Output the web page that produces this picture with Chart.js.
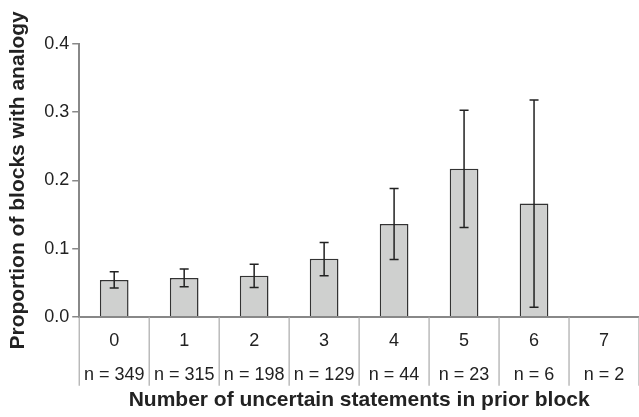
<!DOCTYPE html>
<html>
<head>
<meta charset="utf-8">
<script src="https://cdn.jsdelivr.net/npm/chart.js@4.4.0/dist/chart.umd.min.js"></script>
<style>
  html, body { margin: 0; padding: 0; background: #fff; }
  #wrap { width: 639px; height: 417px; }
</style>
</head>
<body>
<div id="wrap"><canvas id="analogyChart"></canvas></div>
<script>
// values
const categories = ['0', '1', '2', '3', '4', '5', '6', '7'];
const sampleSizes = ['n = 349', 'n = 315', 'n = 198', 'n = 129', 'n = 44', 'n = 23', 'n = 6', 'n = 2'];
const proportions = [0.054, 0.057, 0.060, 0.085, 0.136, 0.217, 0.166, 0];
const errLow = [0.042, 0.044, 0.043, 0.060, 0.084, 0.131, 0.014, null];
const errHigh = [0.066, 0.070, 0.077, 0.109, 0.188, 0.303, 0.318, null];
const yTicks = [0, 0.1, 0.2, 0.3, 0.4];

const FONT = '"Liberation Sans", Arial, sans-serif';

// error bars drawn with the chart's own scales
const errorBars = {
    id: 'errorBars',
    afterDatasetsDraw(chart) {
        const ctx = chart.ctx;
        const meta = chart.getDatasetMeta(0);
        const y = chart.scales.y;
        ctx.save();
        ctx.strokeStyle = '#222';
        ctx.lineWidth = 1.5;
        meta.data.forEach((bar, i) => {
            if (errLow[i] == null || errHigh[i] == null) return;
            const x = bar.x;
            const yLo = y.getPixelForValue(errLow[i]);
            const yHi = y.getPixelForValue(errHigh[i]);
            const cap = 4.5;
            ctx.beginPath();
            ctx.moveTo(x, yLo); ctx.lineTo(x, yHi);
            ctx.moveTo(x - cap, yLo); ctx.lineTo(x + cap, yLo);
            ctx.moveTo(x - cap, yHi); ctx.lineTo(x + cap, yHi);
            ctx.stroke();
        });
        ctx.restore();
    }
};

// table-like dividers between the category labels under the axis
const categoryDividers = {
    id: 'categoryDividers',
    afterDraw(chart) {
        const ctx = chart.ctx;
        const x = chart.scales.x;
        const half = (x.getPixelForValue(1) - x.getPixelForValue(0)) / 2;
        const top = chart.chartArea.bottom;
        ctx.save();
        ctx.strokeStyle = '#aaa';
        ctx.lineWidth = 1.2;
        ctx.beginPath();
        for (let i = 0; i <= categories.length; i++) {
            const px = x.getPixelForValue(i) - half;
            ctx.moveTo(px, top);
            ctx.lineTo(px, top + 69);
        }
        ctx.stroke();
        ctx.restore();
    }
};

const ctx = document.getElementById('analogyChart').getContext('2d');
const analogyChart = new Chart(ctx, {
    type: 'bar',
    data: {
        labels: categories.map((c, i) => [c, sampleSizes[i]]),
        datasets: [{
            label: 'Proportion',
            data: proportions,
            backgroundColor: '#cfd0cf',
            borderColor: '#333',
            borderWidth: 1.5,
            barPercentage: 0.41,
            categoryPercentage: 1
        }]
    },
    options: {
        responsive: true,
        maintainAspectRatio: false,
        animation: false,
        layout: {
            padding: { top: 44, right: -3, left: 6, bottom: 4 }
        },
        plugins: {
            legend: { display: false },
            tooltip: { enabled: false }
        },
        scales: {
            x: {
                grid: { display: false },
                border: { color: '#888', width: 2 },
                ticks: {
                    color: '#222',
                    padding: -1,
                    maxRotation: 0,
                    autoSkip: false,
                    font: { family: FONT, size: 18, lineHeight: 1.89 }
                },
                title: {
                    display: true,
                    text: 'Number of uncertain statements in prior block',
                    color: '#222',
                    font: { family: FONT, size: 21, weight: 'bold' },
                    padding: { top: -3, bottom: 0 }
                }
            },
            y: {
                min: 0,
                max: 0.4,
                afterBuildTicks: (scale) => { scale.ticks = yTicks.map(v => ({ value: v })); },
                grid: {
                    drawOnChartArea: false,
                    tickLength: 7,
                    color: '#888',
                    lineWidth: 1.5
                },
                border: { color: '#888', width: 2 },
                ticks: {
                    color: '#222',
                    padding: 3,
                    font: { family: FONT, size: 18 },
                    callback: (v) => Number(v).toFixed(1)
                },
                title: {
                    display: true,
                    text: 'Proportion of blocks with analogy',
                    color: '#222',
                    font: { family: FONT, size: 21, weight: 'bold' },
                    padding: { top: 0, bottom: 10 }
                }
            }
        }
    },
    plugins: [errorBars, categoryDividers]
});
</script>
</body>
</html>
